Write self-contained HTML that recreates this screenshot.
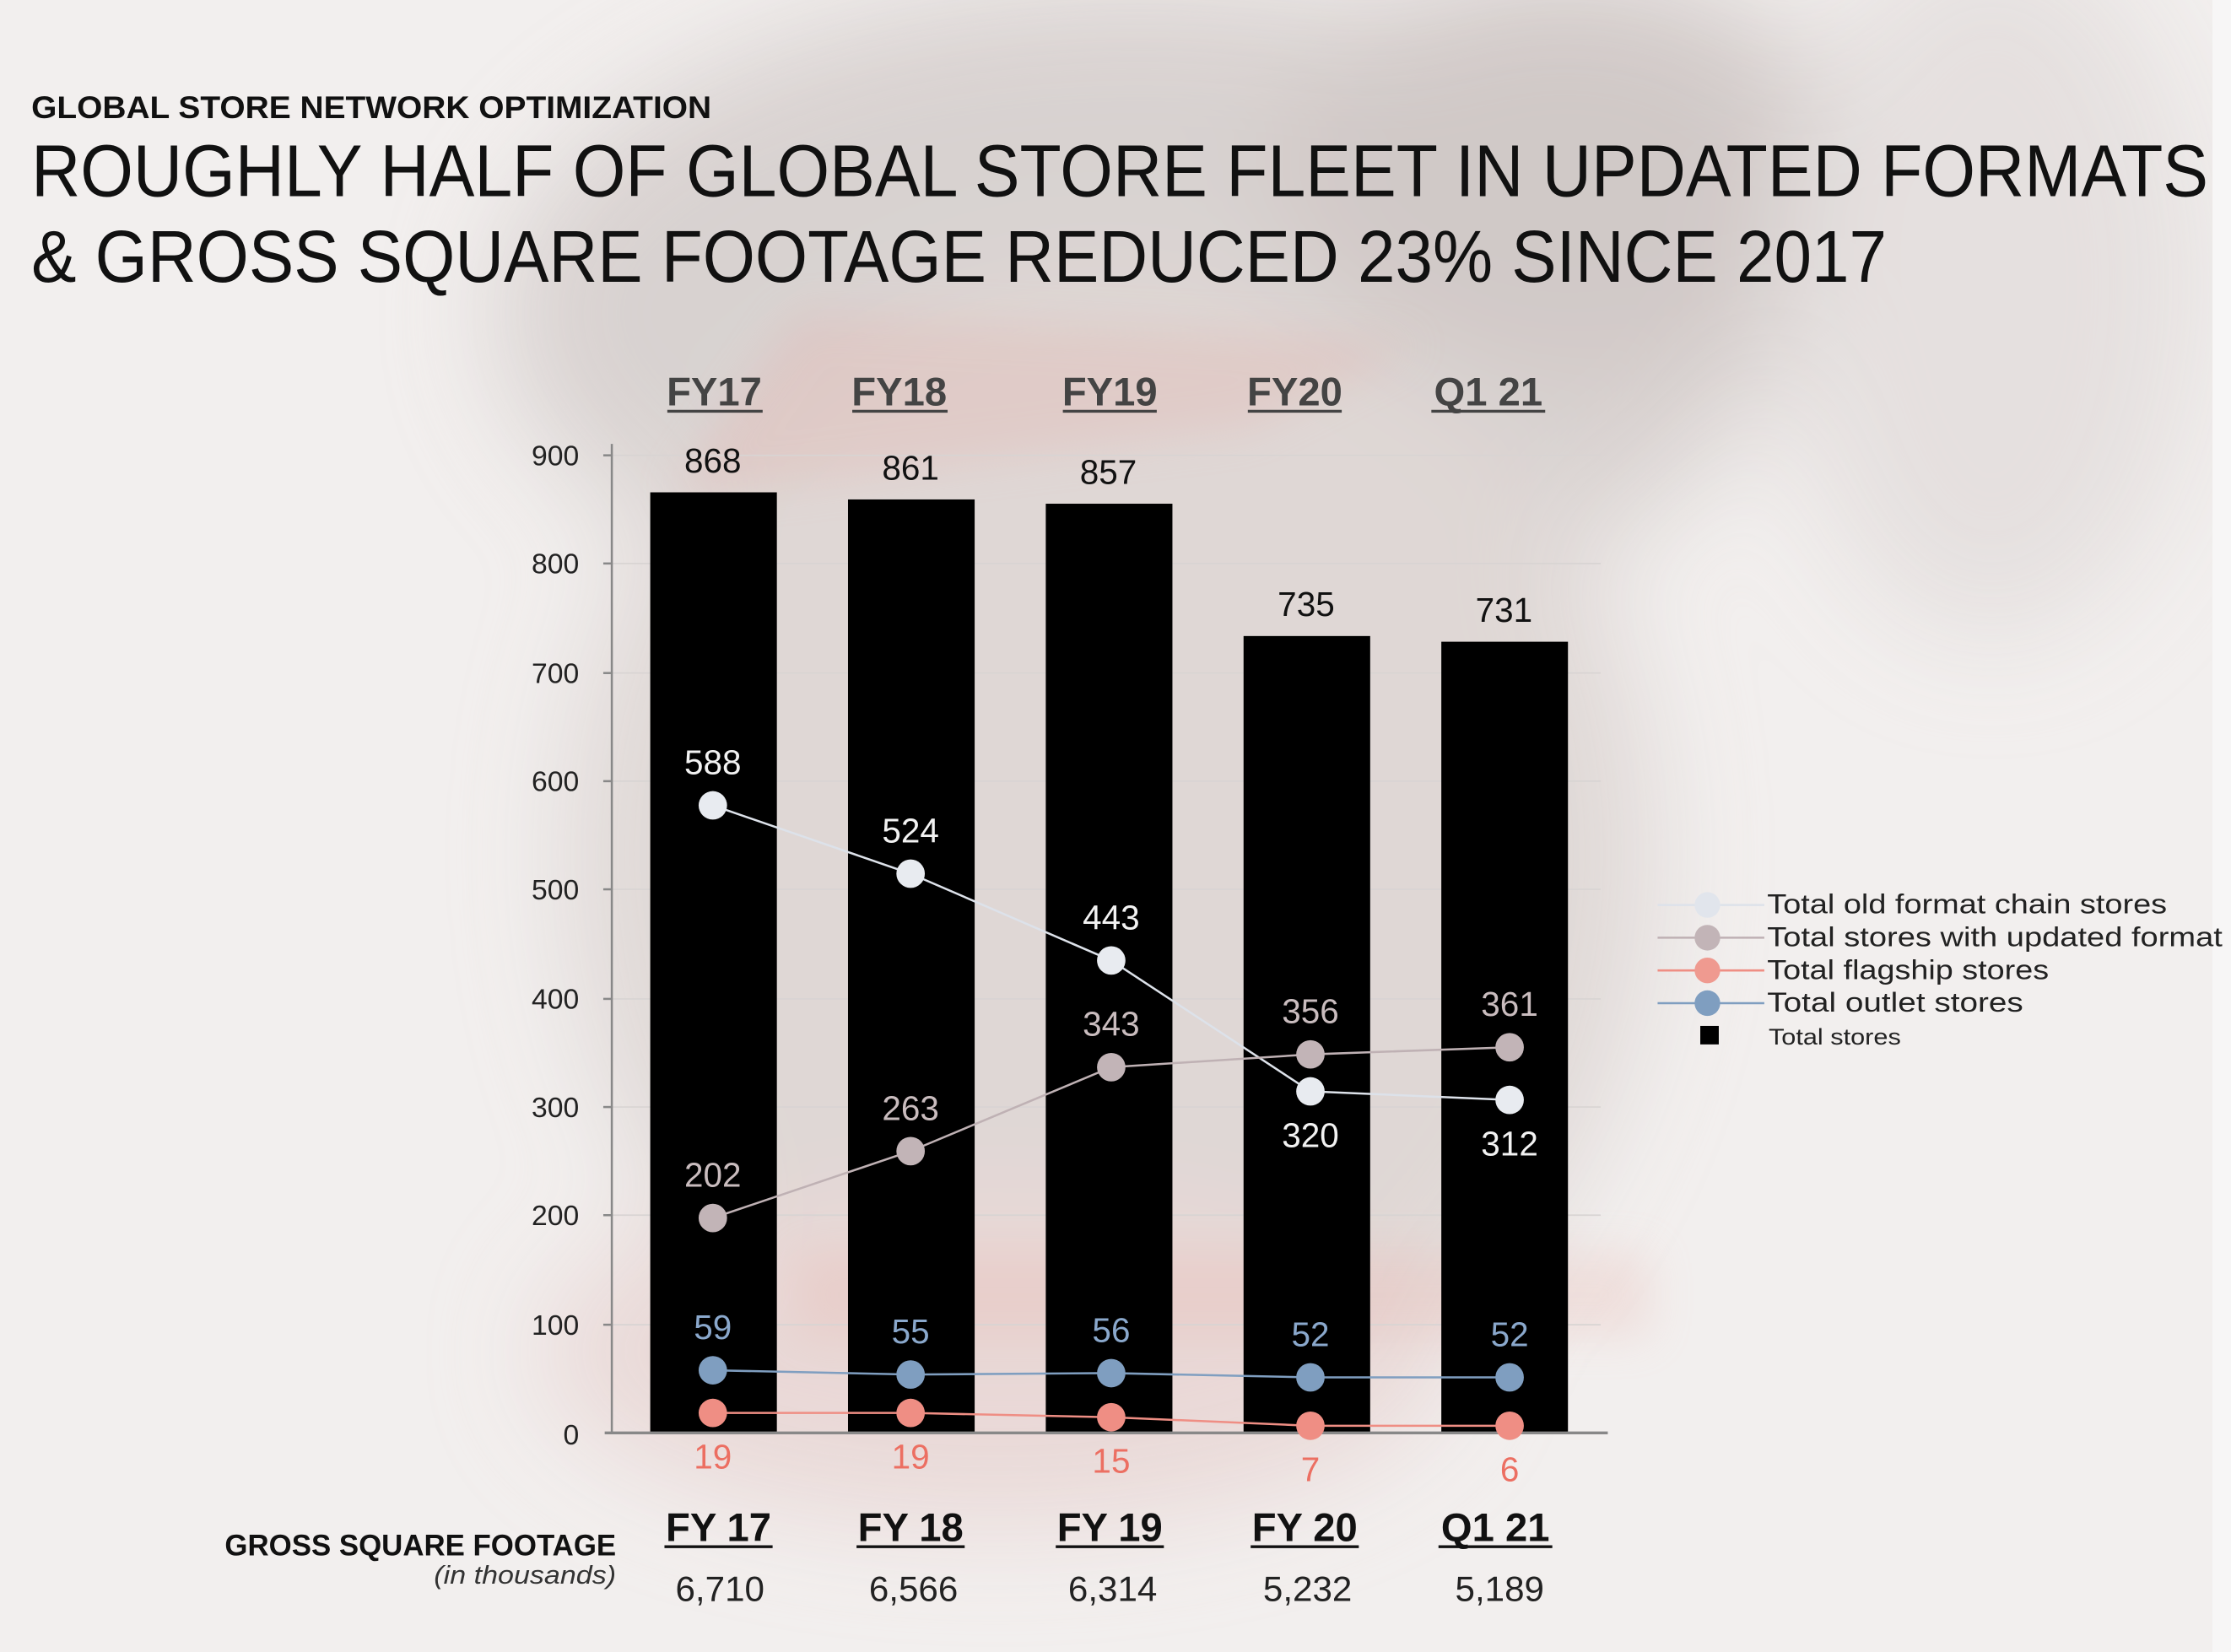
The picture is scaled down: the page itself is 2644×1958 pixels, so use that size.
<!DOCTYPE html>
<html><head><meta charset="utf-8"><style>
html,body{margin:0;padding:0;background:#f1eeed;}
svg{display:block}
text{font-family:"Liberation Sans",sans-serif;}
</style></head><body>
<svg width="2644" height="1958" viewBox="0 0 1568 1161" preserveAspectRatio="none" xmlns="http://www.w3.org/2000/svg">
<defs>
<filter id="b" x="-50%" y="-50%" width="200%" height="200%"><feGaussianBlur stdDeviation="40"/></filter>
<filter id="b2" x="-50%" y="-50%" width="200%" height="200%"><feGaussianBlur stdDeviation="15"/></filter>
</defs>
<rect width="1568" height="1161" fill="#f2efee"/>
<g filter="url(#b)" opacity="0.9">
<ellipse cx="800" cy="220" rx="450" ry="230" fill="#d6cfcd"/>
<ellipse cx="1100" cy="120" rx="200" ry="140" fill="#cdc5c3"/>
<ellipse cx="780" cy="600" rx="380" ry="420" fill="#ddd5d3"/>
<ellipse cx="700" cy="950" rx="320" ry="120" fill="#e8d6d4"/>
<ellipse cx="1400" cy="200" rx="150" ry="250" fill="#e4dfde"/>
</g>
<g filter="url(#b2)" opacity="0.25">
<path d="M470 350 L560 220 L1000 240 L880 300 Z" fill="#e3a9a2"/>
<rect x="560" y="880" width="600" height="60" fill="#e7b2ab"/>
</g>
<rect x="1555" y="0" width="13" height="1161" fill="#f7f6f6"/>

<text x="22" y="83" font-size="22" font-weight="bold" fill="#111" textLength="478" lengthAdjust="spacingAndGlyphs">GLOBAL STORE NETWORK OPTIMIZATION</text>
<text x="22" y="138" font-size="52" fill="#111" textLength="1530" lengthAdjust="spacingAndGlyphs">ROUGHLY HALF OF GLOBAL STORE FLEET IN UPDATED FORMATS</text>
<text x="22" y="198" font-size="52" fill="#111" textLength="1304" lengthAdjust="spacingAndGlyphs">&amp; GROSS SQUARE FOOTAGE REDUCED 23% SINCE 2017</text>

<g font-size="28" font-weight="bold" fill="#444" text-anchor="middle">
<text x="502" y="285">FY17</text><text x="632" y="285">FY18</text><text x="780" y="285">FY19</text><text x="910" y="285">FY20</text><text x="1046" y="285">Q1 21</text>
</g>
<g stroke="#444" stroke-width="2"><line x1="469" y1="289" x2="536" y2="289"/><line x1="599" y1="289" x2="666" y2="289"/><line x1="747" y1="289" x2="813" y2="289"/><line x1="877" y1="289" x2="943" y2="289"/><line x1="1006" y1="289" x2="1086" y2="289"/></g>

<g stroke="#d8d4d3" stroke-width="1">
<line x1="430" y1="320" x2="1125" y2="320"/><line x1="430" y1="396" x2="1125" y2="396"/><line x1="430" y1="473" x2="1125" y2="473"/><line x1="430" y1="549" x2="1125" y2="549"/><line x1="430" y1="625" x2="1125" y2="625"/><line x1="430" y1="702" x2="1125" y2="702"/><line x1="430" y1="778" x2="1125" y2="778"/><line x1="430" y1="854" x2="1125" y2="854"/><line x1="430" y1="931" x2="1125" y2="931"/>
</g>
<line x1="430" y1="312" x2="430" y2="1008" stroke="#888" stroke-width="1.5"/>
<g stroke="#888" stroke-width="1.5"><line x1="424" y1="320" x2="430" y2="320"/><line x1="424" y1="396" x2="430" y2="396"/><line x1="424" y1="473" x2="430" y2="473"/><line x1="424" y1="549" x2="430" y2="549"/><line x1="424" y1="625" x2="430" y2="625"/><line x1="424" y1="702" x2="430" y2="702"/><line x1="424" y1="778" x2="430" y2="778"/><line x1="424" y1="854" x2="430" y2="854"/><line x1="424" y1="931" x2="430" y2="931"/></g>
<g font-size="20" fill="#222" text-anchor="end">
<text x="407" y="327">900</text><text x="407" y="403">800</text><text x="407" y="480">700</text><text x="407" y="556">600</text><text x="407" y="632">500</text><text x="407" y="709">400</text><text x="407" y="785">300</text><text x="407" y="861">200</text><text x="407" y="938">100</text><text x="407" y="1015">0</text>
</g>

<g fill="#000">
<rect x="457" y="346" width="89" height="661"/><rect x="596" y="351" width="89" height="656"/><rect x="735" y="354" width="89" height="653"/><rect x="874" y="447" width="89" height="560"/><rect x="1013" y="451" width="89" height="556"/>
</g>
<line x1="425" y1="1007" x2="1130" y2="1007" stroke="#888" stroke-width="2"/>
<g font-size="24" fill="#111" text-anchor="middle">
<text x="501" y="332">868</text><text x="640" y="337">861</text><text x="779" y="340">857</text><text x="918" y="433">735</text><text x="1057" y="437">731</text>
</g>

<polyline points="501,566 640,614 781,675 921,767 1061,773" fill="none" stroke="#dde2ea" stroke-width="1.5"/>
<polyline points="501,856 640,809 781,750 921,741 1061,736" fill="none" stroke="#bfb1b4" stroke-width="1.5"/>
<polyline points="501,963 640,966 781,965 921,968 1061,968" fill="none" stroke="#7f9ec0" stroke-width="1.5"/>
<polyline points="501,993 640,993 781,996 921,1002 1061,1002" fill="none" stroke="#ef8e84" stroke-width="1.5"/>
<g fill="#e8ebf0"><circle cx="501" cy="566" r="10"/><circle cx="640" cy="614" r="10"/><circle cx="781" cy="675" r="10"/><circle cx="921" cy="767" r="10"/><circle cx="1061" cy="773" r="10"/></g>
<g fill="#c2b4b7"><circle cx="501" cy="856" r="10"/><circle cx="640" cy="809" r="10"/><circle cx="781" cy="750" r="10"/><circle cx="921" cy="741" r="10"/><circle cx="1061" cy="736" r="10"/></g>
<g fill="#7f9ec0"><circle cx="501" cy="963" r="10"/><circle cx="640" cy="966" r="10"/><circle cx="781" cy="965" r="10"/><circle cx="921" cy="968" r="10"/><circle cx="1061" cy="968" r="10"/></g>
<g fill="#ef8e84"><circle cx="501" cy="993" r="10"/><circle cx="640" cy="993" r="10"/><circle cx="781" cy="996" r="10"/><circle cx="921" cy="1002" r="10"/><circle cx="1061" cy="1002" r="10"/></g>

<g font-size="24" text-anchor="middle">
<g fill="#f2f2f2"><text x="501" y="544">588</text><text x="640" y="592">524</text><text x="781" y="653">443</text><text x="921" y="806">320</text><text x="1061" y="812">312</text></g>
<g fill="#c9bcbe"><text x="501" y="834">202</text><text x="640" y="787">263</text><text x="781" y="728">343</text><text x="921" y="719">356</text><text x="1061" y="714">361</text></g>
<g fill="#8aa8cc"><text x="501" y="941">59</text><text x="640" y="944">55</text><text x="781" y="943">56</text><text x="921" y="946">52</text><text x="1061" y="946">52</text></g>
<g fill="#ec6f62"><text x="501" y="1032">19</text><text x="640" y="1032">19</text><text x="781" y="1035">15</text><text x="921" y="1041">7</text><text x="1061" y="1041">6</text></g>
</g>

<g font-size="19" fill="#222">
<line x1="1165" y1="636" x2="1240" y2="636" stroke="#dde2ea" stroke-width="1.5"/><circle cx="1200" cy="636" r="9" fill="#e1e5ec"/><text x="1242" y="642" textLength="281" lengthAdjust="spacingAndGlyphs">Total old format chain stores</text>
<line x1="1165" y1="659" x2="1240" y2="659" stroke="#bfb1b4" stroke-width="1.5"/><circle cx="1200" cy="659" r="9" fill="#c2b4b7"/><text x="1242" y="665" textLength="320" lengthAdjust="spacingAndGlyphs">Total stores with updated format</text>
<line x1="1165" y1="682" x2="1240" y2="682" stroke="#ef8e84" stroke-width="1.5"/><circle cx="1200" cy="682" r="9" fill="#ef9a90"/><text x="1242" y="688" textLength="198" lengthAdjust="spacingAndGlyphs">Total flagship stores</text>
<line x1="1165" y1="705" x2="1240" y2="705" stroke="#7f9ec0" stroke-width="1.5"/><circle cx="1200" cy="705" r="9" fill="#7f9ec0"/><text x="1242" y="711" textLength="180" lengthAdjust="spacingAndGlyphs">Total outlet stores</text>
<rect x="1195" y="721" width="13" height="13" fill="#000"/><text x="1243" y="734" font-size="16" textLength="93" lengthAdjust="spacingAndGlyphs">Total stores</text>
</g>

<text x="433" y="1093" font-size="21" font-weight="bold" fill="#111" text-anchor="end" textLength="275" lengthAdjust="spacingAndGlyphs">GROSS SQUARE FOOTAGE</text>
<text x="433" y="1113" font-size="18" font-style="italic" fill="#333" text-anchor="end" textLength="128" lengthAdjust="spacingAndGlyphs">(in thousands)</text>
<g font-size="28" font-weight="bold" fill="#111" text-anchor="middle">
<text x="505" y="1083">FY 17</text><text x="640" y="1083">FY 18</text><text x="780" y="1083">FY 19</text><text x="917" y="1083">FY 20</text><text x="1051" y="1083">Q1 21</text>
</g>
<g stroke="#111" stroke-width="2"><line x1="467" y1="1087" x2="543" y2="1087"/><line x1="602" y1="1087" x2="678" y2="1087"/><line x1="742" y1="1087" x2="818" y2="1087"/><line x1="879" y1="1087" x2="955" y2="1087"/><line x1="1011" y1="1087" x2="1091" y2="1087"/></g>
<g font-size="25" fill="#222" text-anchor="middle">
<text x="506" y="1125">6,710</text><text x="642" y="1125">6,566</text><text x="782" y="1125">6,314</text><text x="919" y="1125">5,232</text><text x="1054" y="1125">5,189</text>
</g>
</svg>
</body></html>
